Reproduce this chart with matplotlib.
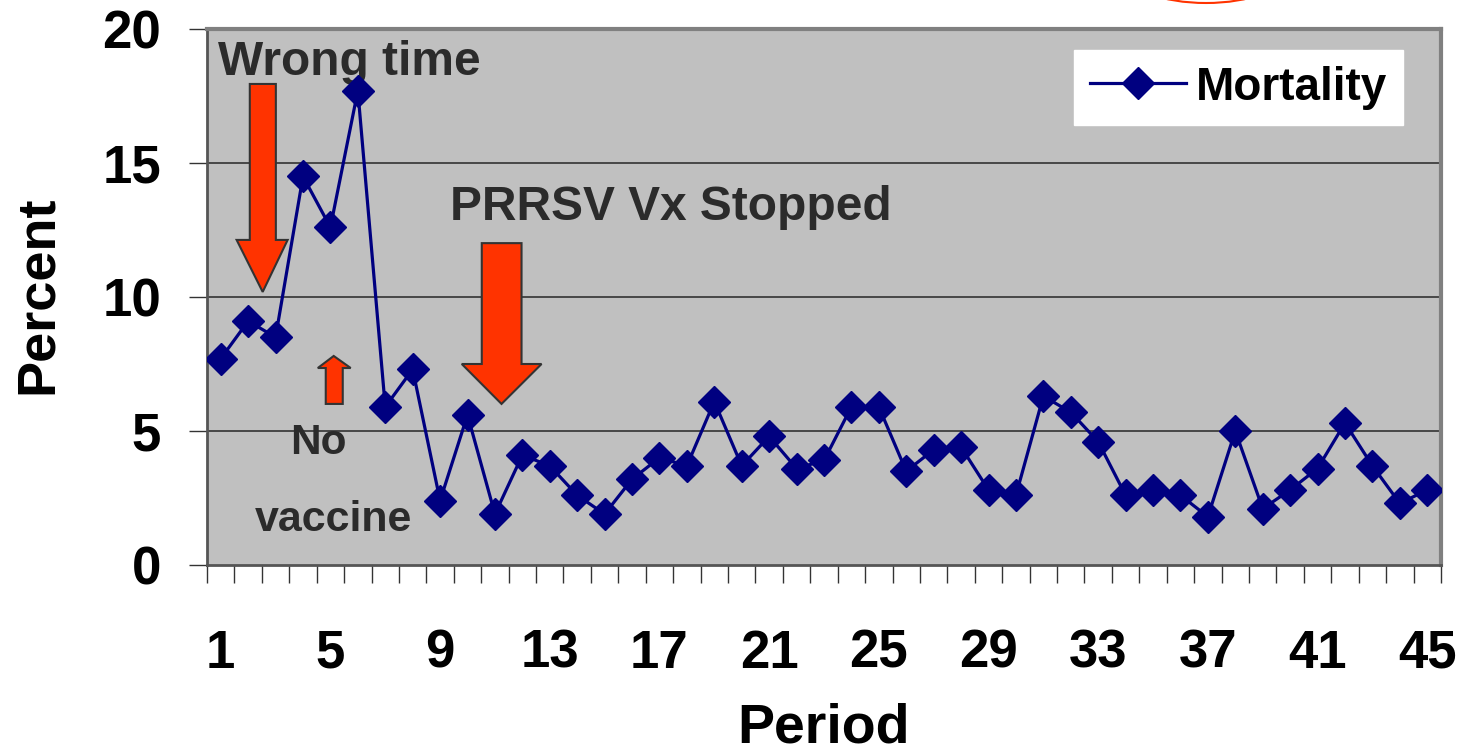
import matplotlib
matplotlib.use("Agg")
from matplotlib import pyplot as plt
from matplotlib.patches import Polygon, Ellipse

plt.rcParams['font.family'] = ['Liberation Sans', 'DejaVu Sans']
plt.rcParams['font.weight'] = 'bold'

periods = list(range(1, 46))
mortality = [7.7, 9.1, 8.5, 14.5, 12.6, 17.7, 5.9, 7.3, 2.4, 5.6,
             1.9, 4.1, 3.7, 2.6, 1.9, 3.2, 4.0, 3.7, 6.1, 3.7,
             4.8, 3.6, 3.9, 5.9, 5.9, 3.5, 4.3, 4.4, 2.8, 2.6,
             6.3, 5.7, 4.6, 2.6, 2.8, 2.6, 1.8, 5.0, 2.1, 2.8,
             3.6, 5.3, 3.7, 2.3, 2.8]
tick_periods = periods[::4]
y_ticks = [0, 5, 10, 15, 20]

red = '#FF3300'
edge = '#333333'
text_gray = '#2b2b2b'

fig = plt.figure(figsize=(14.62, 7.54), dpi=100)
ax = fig.add_axes([0.1416, 0.2507, 0.8440, 0.7108])
ax.set_facecolor('#C0C0C0')

for v in y_ticks[1:-1]:
    ax.axhline(v, color='#333333', lw=1.2, zorder=1)

ax.plot(periods, mortality, color='#000080', lw=2.3, marker='D',
        markersize=16, label='Mortality', zorder=5)

ax.set_xlim(0.5, 45.5)
ax.set_ylim(0, 20)
ax.set_yticks(y_ticks)
ax.set_xticks(tick_periods)
ax.set_xticks([p - 0.5 for p in periods] + [45.5], minor=True)
ax.tick_params(axis='x', which='major', length=0, pad=46, labelsize=38)
ax.tick_params(axis='x', which='minor', length=13, width=1, color='#333333')
ax.tick_params(axis='y', length=13, width=1, pad=20, labelsize=38, color='#333333')

ax.set_ylabel('Percent', fontsize=39, fontweight='bold')
ax.yaxis.set_label_coords(-0.117, 0.504)
ax.set_xlabel('Period', fontsize=40, fontweight='bold')
ax.xaxis.set_label_coords(0.5, -0.257)

for s in ['left', 'bottom']:
    ax.spines[s].set_color('#555555')
    ax.spines[s].set_linewidth(2)
for s in ['top', 'right']:
    ax.spines[s].set_color('#808080')
    ax.spines[s].set_linewidth(3)

# arrows
arrow1 = [(2.06, 17.95), (3.01, 17.95), (3.01, 12.13), (3.44, 12.13),
          (2.53, 10.19), (1.58, 12.13), (2.06, 12.13)]
arrow2 = [(10.52, 12.01), (11.97, 12.01), (11.97, 7.5), (12.70, 7.5),
          (11.24, 6.01), (9.79, 7.5), (10.52, 7.5)]
arrow3 = [(4.83, 6.01), (5.45, 6.01), (5.45, 7.35), (5.74, 7.35),
          (5.12, 7.80), (4.54, 7.35), (4.83, 7.35)]
for pts in [arrow1, arrow2, arrow3]:
    ax.add_patch(Polygon(pts, closed=True, facecolor=red, edgecolor=edge,
                         lw=1.5, zorder=4))

ax.text(0.89, 18.3, 'Wrong time', fontsize=34.5, color=text_gray, fontweight='bold')
ax.text(9.35, 12.87, 'PRRSV Vx Stopped', fontsize=34.5, color=text_gray, fontweight='bold')
ax.text(3.52, 4.14, 'No', fontsize=30.5, color=text_gray, fontweight='bold')
ax.text(2.24, 1.27, 'vaccine', fontsize=31, color=text_gray, fontweight='bold')

leg = ax.legend(loc='upper right', bbox_to_anchor=(0.969, 0.961), fontsize=33,
                frameon=True, fancybox=False, framealpha=1, handlelength=2.1,
                borderpad=0.34, handletextpad=0.22, borderaxespad=0)
leg.get_frame().set_facecolor('white')
leg.get_frame().set_edgecolor('white')
for t in leg.get_texts():
    t.set_color('black')

# partial red ellipse at top edge
fig.patches.append(Ellipse((1206 / 1462, 1 + 28 / 754), 160 / 1462, 62 / 754,
                           transform=fig.transFigure, fill=False,
                           edgecolor=red, lw=1.5))

fig.savefig('out.png', dpi=100)
